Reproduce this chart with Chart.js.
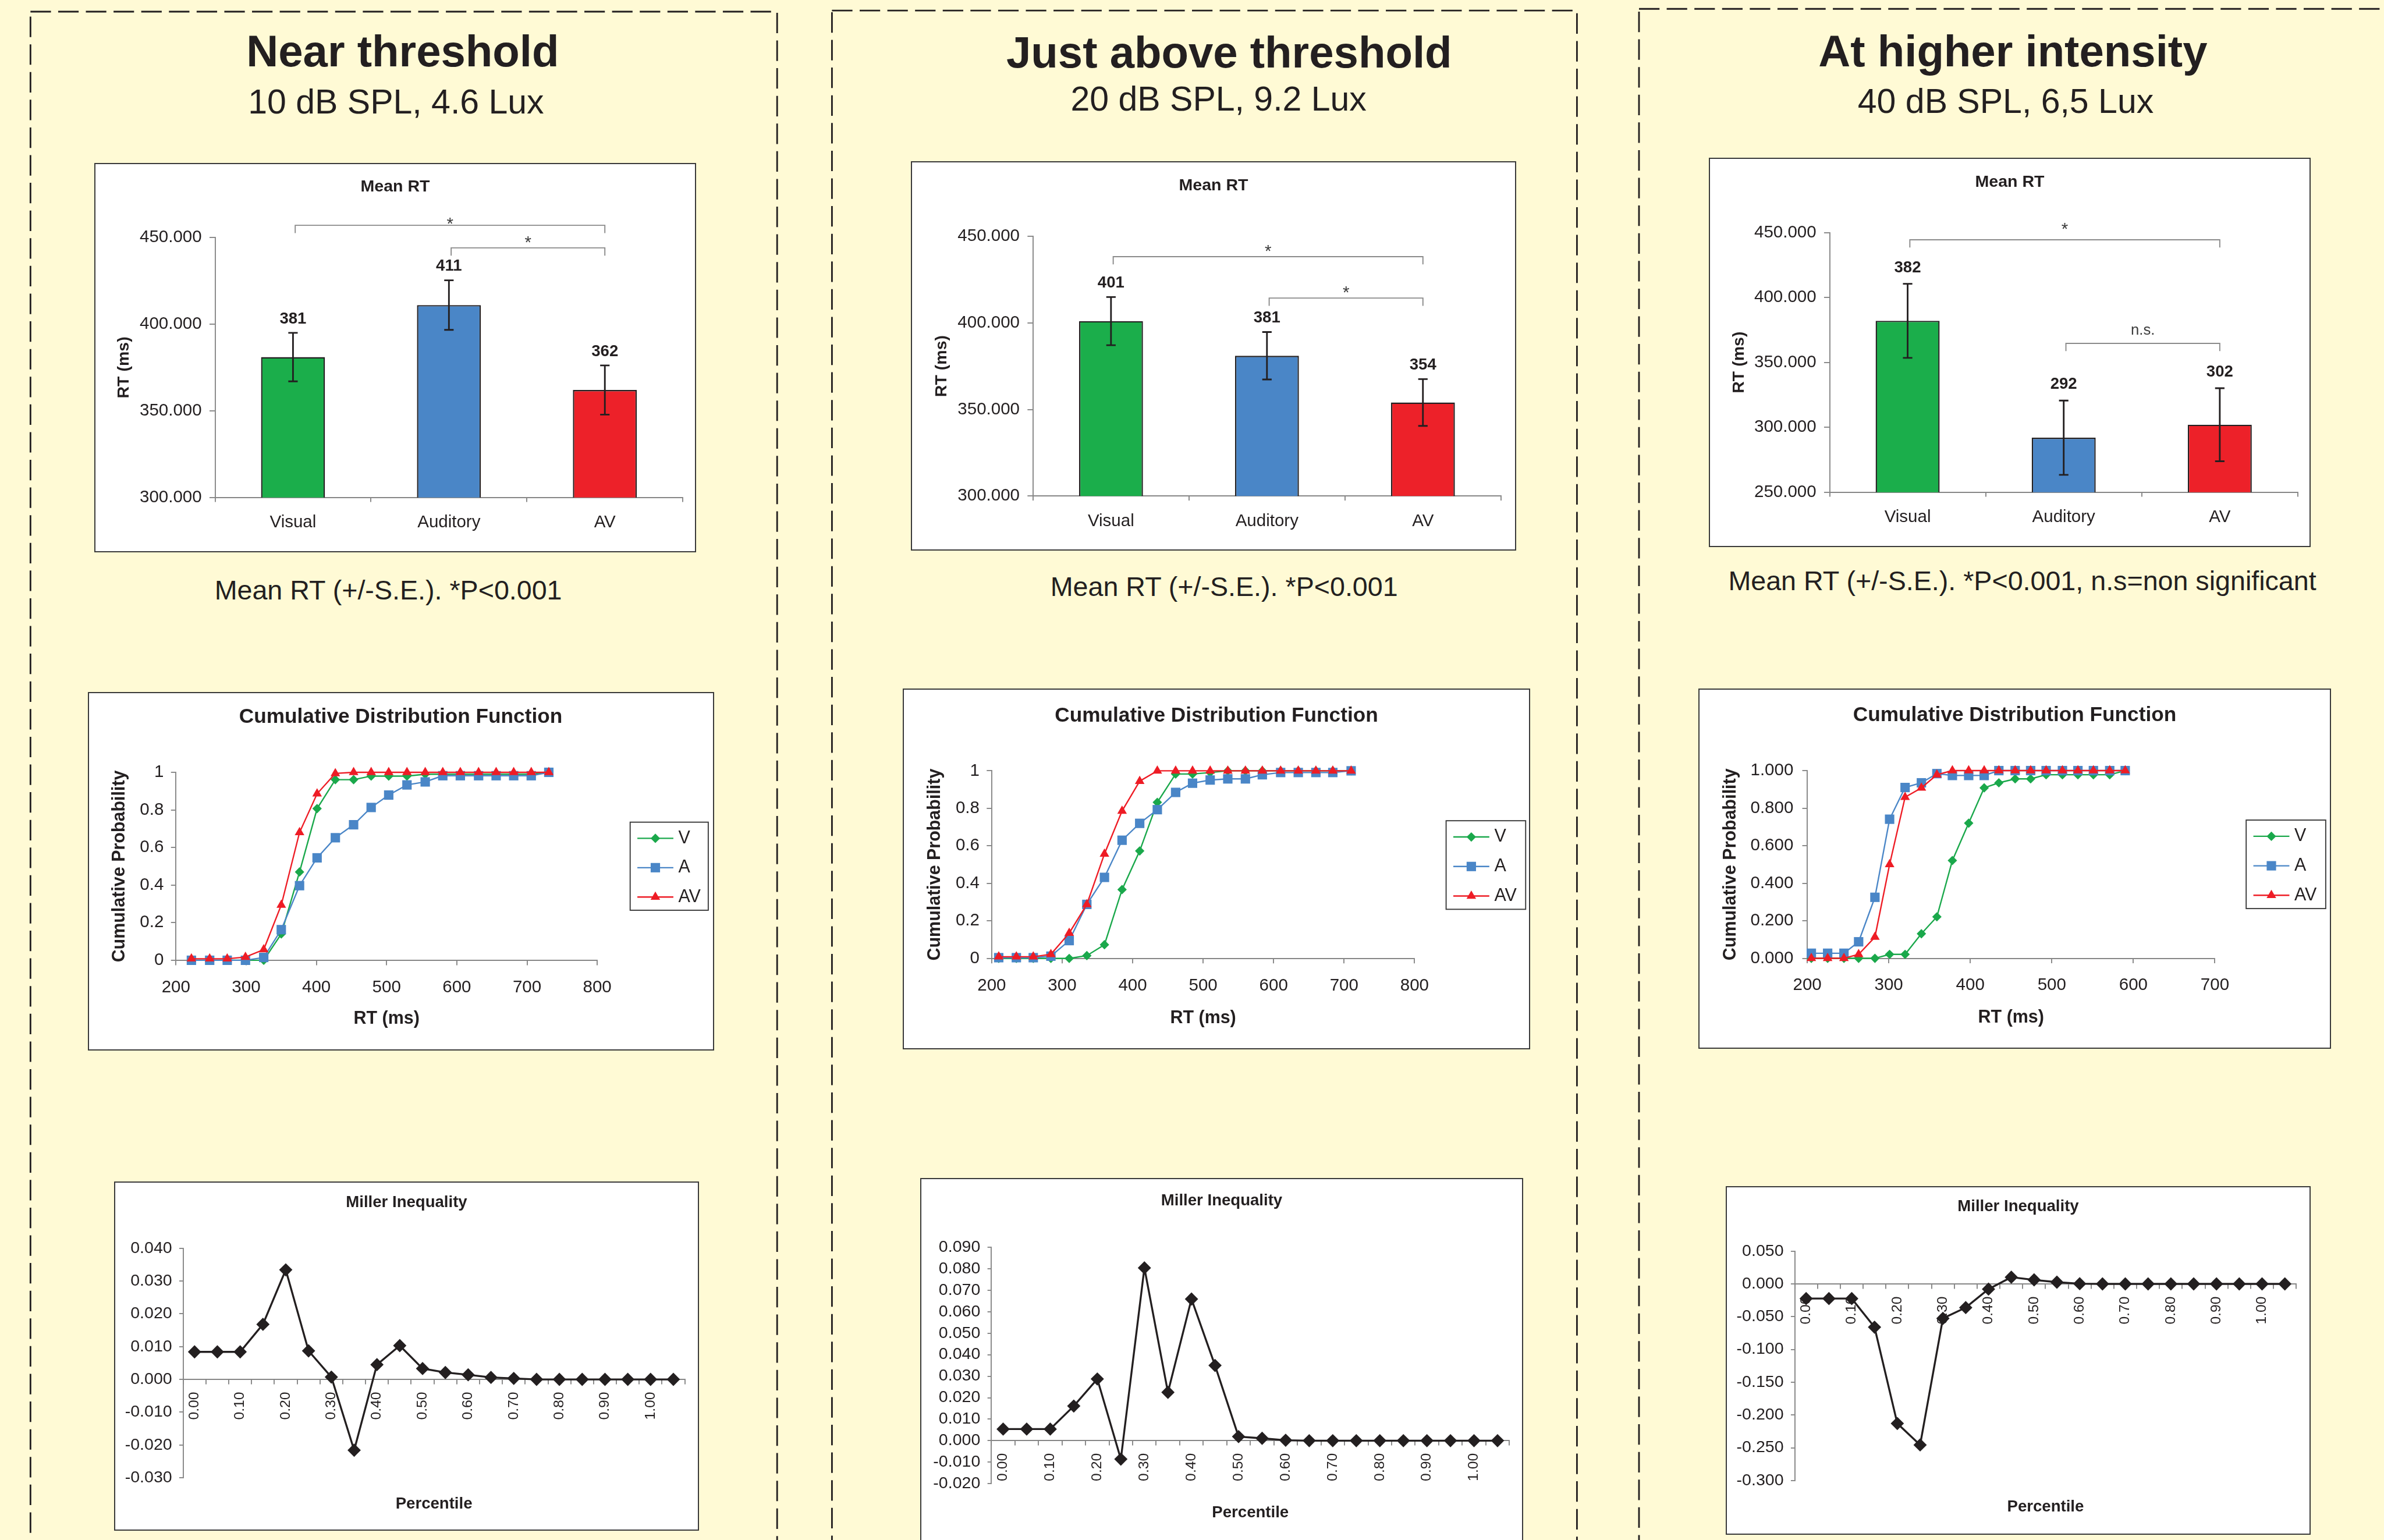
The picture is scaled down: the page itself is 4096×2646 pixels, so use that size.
<!DOCTYPE html>
<html>
<head>
<meta charset="utf-8">
<title>Mean RT, CDF and Miller inequality</title>
<script src="https://cdn.jsdelivr.net/npm/chart.js@4.4.1/dist/chart.umd.min.js"></script>
<style>
  html, body { margin: 0; padding: 0; background: #fffad5; overflow: hidden; }
  #page { position: relative; width: 4096px; height: 2646px; overflow: hidden; background: #fffad5; }
  #deco { position: absolute; left: 0; top: 0; }
  .box { position: absolute; background: #fff; outline: 2px solid #3a3a3a; outline-offset: -2px; }
  .box canvas { position: absolute; left: 0; top: 0; }
</style>
</head>
<body>
<div id="page">
  <svg id="deco" width="4096" height="2646" viewBox="0 0 4304 2780" preserveAspectRatio="none"></svg>
</div>
<script>
// ---- data ----
const barCategories = ['Visual', 'Auditory', 'AV'];
const meanNear = [381, 411, 362];
const seNear = [14, 14.3, 14.2];
const meanJustAbove = [401, 381, 354];
const seJustAbove = [13.9, 13.7, 13.5];
const meanHigher = [382, 292, 302];
const seHigher = [28.5, 28.6, 28.1];

const rtNear = [222, 248, 273, 299, 325, 350, 376, 401, 427, 453, 478, 503, 529, 555, 580, 605, 631, 656, 681, 706, 731];
const cdfNearV = [0, 0, 0, 0, 0, 0.14, 0.47, 0.807, 0.961, 0.961, 0.98, 0.98, 0.98, 0.99, 0.99, 0.99, 0.99, 0.99, 0.99, 0.99, 1];
const cdfNearA = [0, 0, 0, 0, 0.015, 0.163, 0.397, 0.545, 0.652, 0.721, 0.813, 0.879, 0.933, 0.949, 0.982, 0.982, 0.982, 0.982, 0.982, 0.982, 1];
const cdfNearAV = [0.008, 0.008, 0.008, 0.017, 0.057, 0.294, 0.68, 0.886, 0.994, 1, 1, 1, 1, 1, 1, 1, 1, 1, 1, 1, 1];

const rtJustAbove = [210, 235, 259, 284, 310, 335, 360, 385, 410, 435, 461, 485, 510, 535, 560, 584, 610, 635, 660, 684, 710];
const cdfJustAboveV = [0, 0, 0, 0, 0, 0.015, 0.073, 0.367, 0.573, 0.832, 0.983, 0.983, 0.991, 1, 1, 1, 1, 1, 1, 1, 1];
const cdfJustAboveA = [0.004, 0.004, 0.004, 0.012, 0.095, 0.288, 0.432, 0.63, 0.72, 0.793, 0.885, 0.934, 0.951, 0.957, 0.957, 0.979, 0.991, 0.991, 0.991, 0.991, 1];
const cdfJustAboveAV = [0.009, 0.009, 0.009, 0.022, 0.135, 0.288, 0.557, 0.786, 0.945, 1, 1, 1, 1, 1, 1, 1, 1, 1, 1, 1, 1];

const rtHigher = [205, 225, 245, 263, 283, 301, 320, 340, 359, 378, 398, 417, 435, 455, 474, 493, 513, 532, 551, 571, 590];
const cdfHigherV = [0, 0, 0, 0, 0, 0.021, 0.021, 0.131, 0.221, 0.521, 0.72, 0.908, 0.935, 0.956, 0.956, 0.978, 0.978, 0.978, 0.978, 0.978, 1];
const cdfHigherA = [0.027, 0.027, 0.027, 0.088, 0.325, 0.741, 0.91, 0.935, 0.984, 0.974, 0.974, 0.974, 1, 1, 1, 1, 1, 1, 1, 1, 1];
const cdfHigherAV = [0, 0, 0, 0.021, 0.113, 0.5, 0.858, 0.908, 0.978, 1, 1, 1, 1, 1, 1, 1, 1, 1, 1, 1, 1];

const percentiles = ['0.00', '0.05', '0.10', '0.15', '0.20', '0.25', '0.30', '0.35', '0.40', '0.45', '0.50',
  '0.55', '0.60', '0.65', '0.70', '0.75', '0.80', '0.85', '0.90', '0.95', '1.00', '1.05'];
const millerNear = [0.0084, 0.0084, 0.0084, 0.0168, 0.0334, 0.0087, 0.0007, -0.0216, 0.0045, 0.0103, 0.0033,
  0.0021, 0.0014, 0.0006, 0.0003, 0, 0, 0, 0, 0, 0, 0];
const millerJustAbove = [0.0054, 0.0054, 0.0054, 0.0161, 0.0287, -0.0086, 0.0804, 0.0225, 0.0659, 0.035, 0.0019,
  0.0011, 0.0002, 0, 0, 0, 0, 0, 0, 0, 0, 0];
const millerHigher = [-0.0223, -0.0223, -0.0223, -0.066, -0.213, -0.2457, -0.0526, -0.0361, -0.0079, 0.0103, 0.0062,
  0.0027, 0.0003, 0, 0, 0, 0, 0, 0, 0, 0, 0];

// axis ranges [min, max, step]
const rtAxisNear = [300, 450, 50];
const rtAxisJustAbove = [300, 450, 50];
const rtAxisHigher = [250, 450, 50];
const millerAxisNear = [-0.03, 0.04, 0.01];
const millerAxisJustAbove = [-0.02, 0.09, 0.01];
const millerAxisHigher = [-0.3, 0.05, 0.05];

// significance brackets: category from/to, bracket level and label baseline in RT units
const bracketsNear = [
  { from: 0, to: 2, y: 457, textY: 454.8, text: '*' },
  { from: 1, to: 2, y: 444, textY: 444.1, text: '*' }
];
const bracketsJustAbove = [
  { from: 0, to: 2, y: 438.2, textY: 438.3, text: '*' },
  { from: 1, to: 2, y: 414.3, textY: 414.2, text: '*' }
];
const bracketsHigher = [
  { from: 0, to: 2, y: 444.4, textY: 448.5, text: '*' },
  { from: 1, to: 2, y: 364.6, textY: 371.3, text: 'n.s.' }
];

const panelTitles = ['Near threshold', 'Just above threshold', 'At higher intensity'];
const panelSubtitles = ['10 dB SPL, 4.6 Lux', '20 dB SPL, 9.2 Lux', '40 dB SPL, 6,5 Lux'];
const panelCaptions = ['Mean RT (+/-S.E.). *P<0.001', 'Mean RT (+/-S.E.). *P<0.001',
  'Mean RT (+/-S.E.). *P<0.001, n.s=non significant'];

// ---- layout (reference pixels, scaled below) ----
const S = 4096 / 4304;
const px = v => v * S;
const ink = '#231f20';
const axisGray = '#868686';
const family = '"Liberation Sans", Arial, Helvetica, sans-serif';
const barColors = ['#1bae4b', '#4a86c7', '#ed2129'];
const green = '#1aa84b', blue = '#4a86c7', red = '#ee1c25';

Chart.defaults.font.family = family;
Chart.defaults.color = ink;

const page = document.getElementById('page');
const deco = document.getElementById('deco');

const meanBoxes = [
  { x: 170, y: 294, w: 1087, h: 703, l: 218, t: 134.5, r: 1063, b: 604, titleY: 43, yTitleX: 53.5, labelGap: 17 },
  { x: 1644, y: 291, w: 1093, h: 703, l: 220.5, t: 135.4, r: 1065.4, b: 604.6, titleY: 44, yTitleX: 56, labelGap: 17 },
  { x: 3085, y: 285, w: 1087, h: 703, l: 218, t: 135, r: 1063.8, b: 604, titleY: 44, yTitleX: 55, labelGap: 21 }
];
const cdfBoxes = [
  { x: 159, y: 1249, w: 1130, h: 648, l: 159, t: 145, r: 920, b: 484, titleY: 45, yTitleX: 57, xTitleY: 590,
    leg: { l: 979, t: 235, r: 1120, b: 394 }, yPad: 13 },
  { x: 1630, y: 1243, w: 1133, h: 652, l: 160.6, t: 148.6, r: 924.3, b: 487.8, titleY: 49.8, yTitleX: 57.9, xTitleY: 595.8,
    leg: { l: 981, t: 238.7, r: 1124.6, b: 398.6 }, yPad: 13 },
  { x: 3066, y: 1243, w: 1142, h: 651, l: 196.6, t: 148.2, r: 932.3, b: 486.6, titleY: 49, yTitleX: 58.3, xTitleY: 593.7,
    leg: { l: 989, t: 237.5, r: 1132.6, b: 397.3 }, yPad: 16 }
];
const millerBoxes = [
  { x: 206, y: 2133, w: 1056, h: 631, l: 124.7, t: 120.5, r: 1031.4, b: 534.4, titleY: 38.4, xTitleY: 582 },
  { x: 1661, y: 2127, w: 1089, h: 680, l: 128.5, t: 125, r: 1069.5, b: 552, titleY: 41.6, xTitleY: 604.7 },
  { x: 3116, y: 2141, w: 1056, h: 630, l: 124.6, t: 117.4, r: 1030, b: 531, titleY: 36.7, xTitleY: 578.7 }
];

const font = (size, bold) => ({ size: px(size), weight: bold ? 'bold' : 'normal', lineHeight: 1.2 });
const fmt3 = v => (Math.abs(v) < 1e-9 ? 0 : v).toFixed(3);

function titlePad(centerY, areaTop, size) {
  const half = px(size) * 0.6;
  return { top: px(centerY) - half, bottom: px(areaTop - centerY) - half };
}

function axisLines(tick) {
  return {
    grid: { drawOnChartArea: false, drawTicks: true, tickLength: px(tick), color: axisGray, lineWidth: px(2) },
    border: { display: true, color: axisGray, width: px(2) }
  };
}

// invisible right-hand axis that only reserves room (legend / right margin)
function spacer(width) {
  return {
    type: 'linear', axis: 'y', position: 'right', display: true,
    grid: { display: false }, border: { display: false }, ticks: { display: false },
    afterFit: s => { s.width = width; }
  };
}

function addBox(g) {
  const box = document.createElement('div');
  box.className = 'box';
  box.style.left = px(g.x) + 'px';
  box.style.top = px(g.y) + 'px';
  box.style.width = px(g.w) + 'px';
  box.style.height = px(g.h) + 'px';
  const cv = document.createElement('canvas');
  cv.width = Math.round(px(g.w));
  cv.height = Math.round(px(g.h));
  box.appendChild(cv);
  page.appendChild(box);
  return cv;
}

function buildMeanChart(g, means, se, axis, brackets) {
  const cv = addBox(g);
  const extras = {
    id: 'meanExtras',
    afterDatasetsDraw(chart) {
      const { ctx } = chart;
      const x = chart.scales.x, y = chart.scales.y;
      const bars = chart.getDatasetMeta(0).data;
      ctx.save();
      ctx.lineWidth = px(3);
      ctx.strokeStyle = ink;
      ctx.fillStyle = ink;
      ctx.font = `bold ${px(29)}px ${family}`;
      ctx.textAlign = 'center';
      ctx.textBaseline = 'alphabetic';
      const cap = px(8.5);
      means.forEach((m, i) => {
        const cx = bars[i].x;
        const top = y.getPixelForValue(m + se[i]);
        const bot = y.getPixelForValue(m - se[i]);
        ctx.beginPath();
        ctx.moveTo(cx, top); ctx.lineTo(cx, bot);
        ctx.moveTo(cx - cap, top); ctx.lineTo(cx + cap, top);
        ctx.moveTo(cx - cap, bot); ctx.lineTo(cx + cap, bot);
        ctx.stroke();
        ctx.fillText(String(m), cx, top - px(g.labelGap));
      });
      ctx.strokeStyle = '#8a8a8a';
      ctx.lineWidth = px(2);
      ctx.fillStyle = '#3c3c3c';
      brackets.forEach(b => {
        const x1 = x.getPixelForValue(b.from) + px(4);
        const x2 = x.getPixelForValue(b.to);
        const yy = y.getPixelForValue(b.y);
        const drop = px(14);
        ctx.beginPath();
        ctx.moveTo(x1, yy + drop); ctx.lineTo(x1, yy); ctx.lineTo(x2, yy); ctx.lineTo(x2, yy + drop);
        ctx.stroke();
        ctx.font = `${px(b.text === '*' ? 31 : 27)}px ${family}`;
        ctx.fillText(b.text, (x1 + x2) / 2, y.getPixelForValue(b.textY));
      });
      ctx.restore();
    }
  };
  return new Chart(cv, {
    type: 'bar',
    data: {
      labels: barCategories,
      datasets: [{
        data: means, yAxisID: 'y', backgroundColor: barColors, borderColor: ink,
        borderWidth: px(2.5), borderSkipped: false, barPercentage: 0.41, categoryPercentage: 1
      }]
    },
    options: {
      responsive: false, animation: false, devicePixelRatio: 1,
      layout: { padding: 0 },
      plugins: {
        legend: { display: false }, tooltip: { enabled: false },
        title: { display: true, text: 'Mean RT', color: ink, font: font(30, true), padding: titlePad(g.titleY, g.t, 30) }
      },
      scales: {
        x: Object.assign(axisLines(8), {
          ticks: { color: ink, font: font(31), padding: px(19) },
          afterFit: s => { s.height = px(g.h - g.b); }
        }),
        y: Object.assign(axisLines(10), {
          min: axis[0], max: axis[1],
          ticks: { stepSize: axis[2], autoSkip: false, color: ink, font: font(31), padding: px(14), callback: v => v.toFixed(3) },
          title: { display: true, text: 'RT (ms)', color: ink, font: font(30, true),
            padding: { top: px(g.yTitleX) - px(30) * 0.6, bottom: 0 } },
          afterFit: s => { s.width = px(g.l); }
        }),
        yr: spacer(px(g.w - g.r))
      }
    },
    plugins: [extras]
  });
}

function buildCdfChart(g, rt, v, a, av, xMax, yFmt) {
  const cv = addBox(g);
  const pts = ys => rt.map((x, i) => ({ x, y: ys[i] }));
  const series = (label, ys, color, style, r, order) => ({
    label, data: pts(ys), yAxisID: 'y', showLine: true, clip: false, order,
    borderColor: color, backgroundColor: color, borderWidth: px(2.5),
    pointStyle: style, pointRadius: px(r), pointBorderWidth: 0, pointBackgroundColor: color
  });
  const boxLegend = {
    id: 'boxLegend',
    afterDraw(chart) {
      const { ctx } = chart;
      const f = { l: px(g.leg.l), t: px(g.leg.t), r: px(g.leg.r), b: px(g.leg.b) };
      ctx.save();
      ctx.strokeStyle = '#3a3a3a';
      ctx.lineWidth = px(2);
      ctx.strokeRect(f.l, f.t, f.r - f.l, f.b - f.t);
      const sets = chart.data.datasets;
      const step = (f.b - f.t) / sets.length;
      sets.forEach((ds, i) => {
        const yy = f.t + step * (i + 0.55);
        const x0 = f.l + px(13), x1 = f.l + px(78);
        ctx.strokeStyle = ds.borderColor;
        ctx.lineWidth = ds.borderWidth;
        ctx.beginPath(); ctx.moveTo(x0, yy); ctx.lineTo(x1, yy); ctx.stroke();
        ctx.fillStyle = ds.backgroundColor;
        Chart.helpers.drawPoint(ctx, { pointStyle: ds.pointStyle, radius: ds.pointRadius, rotation: 0, borderWidth: 0 }, (x0 + x1) / 2, yy);
        ctx.fillStyle = ink;
        ctx.font = `${px(32)}px ${family}`;
        ctx.textAlign = 'left';
        ctx.textBaseline = 'middle';
        ctx.fillText(ds.label, f.l + px(87), yy);
      });
      ctx.restore();
    }
  };
  return new Chart(cv, {
    type: 'scatter',
    data: {
      datasets: [
        series('V', v, green, 'rectRot', 8.5, 3),
        series('A', a, blue, 'rect', 12, 2),
        series('AV', av, red, 'triangle', 10, 1)
      ]
    },
    options: {
      responsive: false, animation: false, devicePixelRatio: 1,
      layout: { padding: 0 },
      plugins: {
        legend: { display: false }, tooltip: { enabled: false },
        title: { display: true, text: 'Cumulative Distribution Function', color: ink, font: font(37, true),
          padding: titlePad(g.titleY, g.t, 37) }
      },
      scales: {
        x: Object.assign(axisLines(9), {
          type: 'linear', min: 200, max: xMax,
          ticks: { stepSize: 100, autoSkip: false, color: ink, font: font(31), padding: px(21.5) },
          title: { display: true, text: 'RT (ms)', color: ink, font: font(32, true),
            padding: { top: 0, bottom: px(g.h - g.xTitleY) - px(32) * 0.6 } },
          afterFit: s => { s.height = px(g.h - g.b); }
        }),
        y: Object.assign(axisLines(9), {
          type: 'linear', min: 0, max: 1,
          ticks: { stepSize: 0.2, autoSkip: false, color: ink, font: font(31), padding: px(g.yPad), callback: yFmt },
          title: { display: true, text: 'Cumulative Probability', color: ink, font: font(32, true),
            padding: { top: px(g.yTitleX) - px(32) * 0.6, bottom: 0 } },
          afterFit: s => { s.width = px(g.l); }
        }),
        yr: spacer(px(g.w - g.r))
      }
    },
    plugins: [boxLegend]
  });
}

function buildMillerChart(g, values, axis) {
  const cv = addBox(g);
  const lh = px(29) * 1.2;
  const subBottom = px(g.h - g.xTitleY) - lh / 2;
  return new Chart(cv, {
    type: 'line',
    data: {
      labels: percentiles,
      datasets: [{
        data: values, yAxisID: 'y', borderColor: ink, backgroundColor: ink, borderWidth: px(3.5),
        pointStyle: 'rectRot', pointRadius: px(12), pointBackgroundColor: ink, pointBorderWidth: 0,
        tension: 0, fill: false, clip: false
      }]
    },
    options: {
      responsive: false, animation: false, devicePixelRatio: 1,
      layout: { padding: 0 },
      plugins: {
        legend: { display: false }, tooltip: { enabled: false },
        title: { display: true, text: 'Miller Inequality', color: ink, font: font(29, true),
          padding: titlePad(g.titleY, g.t, 29) },
        subtitle: { display: true, position: 'bottom', fullSize: false, text: 'Percentile', color: ink,
          font: font(29, true), padding: { top: px(g.h - g.b) - lh - subBottom, bottom: subBottom } }
      },
      scales: {
        x: {
          type: 'category', position: { y: 0 }, offset: true,
          grid: { offset: true, drawOnChartArea: false, drawTicks: true, tickLength: px(8), color: axisGray, lineWidth: px(2) },
          border: { display: true, color: axisGray, width: px(2) },
          ticks: { autoSkip: false, minRotation: 90, maxRotation: 90, padding: px(14.5), color: ink, font: font(26),
            callback: (val, i) => (i % 2 === 0 ? percentiles[i] : '') }
        },
        y: Object.assign(axisLines(7), {
          min: axis[0], max: axis[1],
          ticks: { stepSize: axis[2], autoSkip: false, color: ink, font: font(30), padding: px(13), callback: fmt3 },
          afterFit: s => { s.width = px(g.l); }
        }),
        yr: spacer(px(g.w - g.r))
      }
    }
  });
}

// ---- page decoration: dashed panels and panel texts ----
const svgNS = 'http://www.w3.org/2000/svg';
function svgEl(tag, attrs, text) {
  const el = document.createElementNS(svgNS, tag);
  Object.keys(attrs).forEach(k => el.setAttribute(k, attrs[k]));
  if (text !== undefined) el.textContent = text;
  deco.appendChild(el);
  return el;
}
const frameLeft = [55, 1502, 2959], frameRight = [1403, 2847, 4480], frameTop = [21, 19, 16];
const titleX = [727, 2219, 3634], titleBase = [120, 122, 120];
const subX = [715, 2200, 3621], subBase = [205, 200, 204];
const capX = [701, 2210, 3651], capBase = [1081.7, 1076, 1065];

for (let i = 0; i < 3; i++) {
  svgEl('rect', { x: frameLeft[i], y: frameTop[i], width: frameRight[i] - frameLeft[i], height: 2900,
    fill: 'none', stroke: ink, 'stroke-width': 3, 'stroke-dasharray': '37 13' });
  svgEl('text', { x: titleX[i], y: titleBase[i], 'text-anchor': 'middle', 'font-family': family,
    'font-size': 80, 'font-weight': 'bold', fill: ink }, panelTitles[i]);
  svgEl('text', { x: subX[i], y: subBase[i], 'text-anchor': 'middle', 'font-family': family,
    'font-size': 62, fill: ink }, panelSubtitles[i]);
  svgEl('text', { x: capX[i], y: capBase[i], 'text-anchor': 'middle', 'font-family': family,
    'font-size': 49, fill: ink }, panelCaptions[i]);
}

// ---- charts ----
const probFmt = v => String(+v.toFixed(1));
buildMeanChart(meanBoxes[0], meanNear, seNear, rtAxisNear, bracketsNear);
buildMeanChart(meanBoxes[1], meanJustAbove, seJustAbove, rtAxisJustAbove, bracketsJustAbove);
buildMeanChart(meanBoxes[2], meanHigher, seHigher, rtAxisHigher, bracketsHigher);

buildCdfChart(cdfBoxes[0], rtNear, cdfNearV, cdfNearA, cdfNearAV, 800, probFmt);
buildCdfChart(cdfBoxes[1], rtJustAbove, cdfJustAboveV, cdfJustAboveA, cdfJustAboveAV, 800, probFmt);
buildCdfChart(cdfBoxes[2], rtHigher, cdfHigherV, cdfHigherA, cdfHigherAV, 700, fmt3);

buildMillerChart(millerBoxes[0], millerNear, millerAxisNear);
buildMillerChart(millerBoxes[1], millerJustAbove, millerAxisJustAbove);
buildMillerChart(millerBoxes[2], millerHigher, millerAxisHigher);
</script>
</body>
</html>
